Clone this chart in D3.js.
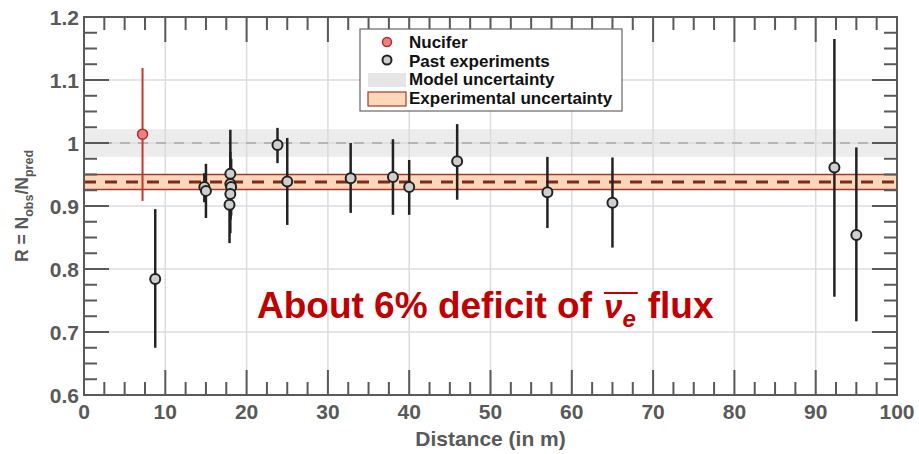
<!DOCTYPE html>
<html>
<head>
<meta charset="utf-8">
<script src="https://cdn.jsdelivr.net/npm/d3@7"></script>
<style>
  html, body { margin: 0; padding: 0; background: #fff; }
  svg { display: block; }
  text { font-family: "Liberation Sans", Arial, Helvetica, sans-serif; }
</style>
</head>
<body>
<svg id="chart" width="919" height="454"></svg>
<script>
// ---------- data ----------
const nuciferDistance = [7.2];
const nuciferRatio    = [1.014];
const nuciferLow      = [0.908];
const nuciferHigh     = [1.119];

const pastDistance = [8.76, 14.8, 15.0, 18.0, 18.0, 18.1, 18.0, 17.9, 23.8, 25.0, 32.8, 38.0, 40.0, 45.9, 57.0, 65.0, 92.3, 95.0];
const pastRatio    = [0.784, 0.930, 0.924, 0.951, 0.935, 0.930, 0.919, 0.902, 0.997, 0.939, 0.944, 0.946, 0.930, 0.971, 0.922, 0.905, 0.961, 0.854];
const pastLow      = [0.675, 0.906, 0.881, 0.880, 0.857, 0.885, 0.878, 0.841, 0.968, 0.870, 0.889, 0.886, 0.886, 0.910, 0.865, 0.834, 0.756, 0.717];
const pastHigh     = [0.895, 0.952, 0.967, 1.021, 0.986, 0.975, 0.960, 0.960, 1.024, 1.008, 1.000, 1.006, 0.973, 1.030, 0.978, 0.977, 1.165, 0.993];

const modelBand = [0.978, 1.022];   // model uncertainty
const modelLine = 1.0;
const expBand   = [0.926, 0.950];   // experimental uncertainty
const expLine   = 0.938;

const xTicks = [0, 10, 20, 30, 40, 50, 60, 70, 80, 90, 100];
const yTicks = [0.6, 0.7, 0.8, 0.9, 1.0, 1.1, 1.2];
const yTickLabels = ["0.6", "0.7", "0.8", "0.9", "1", "1.1", "1.2"];
const legendLabels = ["Nucifer", "Past experiments", "Model uncertainty", "Experimental uncertainty"];

// ---------- layout ----------
const svg = d3.select("#chart");
const m = { left: 84, top: 17, right: 22, bottom: 59 };
const W = 919 - m.left - m.right, H = 454 - m.top - m.bottom;
const x = d3.scaleLinear().domain([0, 100]).range([m.left, m.left + W]);
const y = d3.scaleLinear().domain([0.6, 1.2]).range([m.top + H, m.top]);
const axisColor = "#595959";

// grid
const g = svg.append("g");
g.selectAll(".gx").data(xTicks.slice(1, -1)).join("line")
  .attr("x1", d => x(d)).attr("x2", d => x(d)).attr("y1", y(0.6)).attr("y2", y(1.2))
  .attr("stroke", "#dcdcdc").attr("stroke-width", 1.5);
g.selectAll(".gy").data(yTicks.slice(1, -1)).join("line")
  .attr("y1", d => y(d)).attr("y2", d => y(d)).attr("x1", x(0)).attr("x2", x(100))
  .attr("stroke", "#dcdcdc").attr("stroke-width", 1.5);

// model band
g.append("rect").attr("x", x(0)).attr("width", x(100) - x(0))
  .attr("y", y(modelBand[1])).attr("height", y(modelBand[0]) - y(modelBand[1]))
  .attr("fill", "#d9d9d9").attr("fill-opacity", 0.5);
g.append("line").attr("x1", x(0)).attr("x2", x(100)).attr("y1", y(modelLine)).attr("y2", y(modelLine))
  .attr("stroke", "#a8a8a8").attr("stroke-width", 1.5).attr("stroke-dasharray", "10,8");

// experimental band
g.append("rect").attr("x", x(0)).attr("width", x(100) - x(0))
  .attr("y", y(expBand[1])).attr("height", y(expBand[0]) - y(expBand[1]))
  .attr("fill", "#fcd7b8");
expBand.forEach(v => g.append("line").attr("x1", x(0)).attr("x2", x(100)).attr("y1", y(v)).attr("y2", y(v))
  .attr("stroke", "#a3392c").attr("stroke-width", 1.5));
g.append("line").attr("x1", x(0)).attr("x2", x(100)).attr("y1", y(expLine)).attr("y2", y(expLine))
  .attr("stroke", "#7e2a1c").attr("stroke-width", 3).attr("stroke-dasharray", "12,9");

// error bars - past
const past = pastDistance.map((d, i) => ({ d, r: pastRatio[i], lo: pastLow[i], hi: pastHigh[i] }));
g.selectAll(".pe").data(past).join("line")
  .attr("x1", p => x(p.d)).attr("x2", p => x(p.d)).attr("y1", p => y(p.lo)).attr("y2", p => y(p.hi))
  .attr("stroke", "#222").attr("stroke-width", 2.5);
g.selectAll(".pm").data(past).join("circle")
  .attr("cx", p => x(p.d)).attr("cy", p => y(p.r)).attr("r", 5)
  .attr("fill", "#cfcfcf").attr("stroke", "#222").attr("stroke-width", 2);

// Nucifer
const nuc = nuciferDistance.map((d, i) => ({ d, r: nuciferRatio[i], lo: nuciferLow[i], hi: nuciferHigh[i] }));
g.selectAll(".ne").data(nuc).join("line")
  .attr("x1", p => x(p.d)).attr("x2", p => x(p.d)).attr("y1", p => y(p.lo)).attr("y2", p => y(p.hi))
  .attr("stroke", "#c0392b").attr("stroke-width", 2);
g.selectAll(".nm").data(nuc).join("circle")
  .attr("cx", p => x(p.d)).attr("cy", p => y(p.r)).attr("r", 5)
  .attr("fill", "#f27f7f").attr("stroke", "#a83232").attr("stroke-width", 1.5);

// ticks (inside, all four sides)
const xMinor = d3.range(2.5, 100, 2.5).filter(v => Math.abs(v % 10) > 1e-6);
const yMinor = d3.range(0, 24).map(i => 0.6 + i * 0.025).filter((v, i) => i % 4 !== 0 && v < 1.2);
const tk = svg.append("g").attr("stroke", axisColor).attr("stroke-width", 2);
function xt(vals, len) {
  vals.forEach(v => {
    tk.append("line").attr("x1", x(v)).attr("x2", x(v)).attr("y1", y(0.6)).attr("y2", y(0.6) - len);
    tk.append("line").attr("x1", x(v)).attr("x2", x(v)).attr("y1", y(1.2)).attr("y2", y(1.2) + len);
  });
}
function yt(vals, len) {
  vals.forEach(v => {
    tk.append("line").attr("y1", y(v)).attr("y2", y(v)).attr("x1", x(0)).attr("x2", x(0) + len);
    tk.append("line").attr("y1", y(v)).attr("y2", y(v)).attr("x1", x(100)).attr("x2", x(100) - len);
  });
}
xt(xTicks.slice(1, -1), 25); xt(xMinor, 13);
yt(yTicks.slice(1, -1), 25); yt(yMinor, 13);
svg.append("rect").attr("x", x(0)).attr("y", y(1.2)).attr("width", x(100) - x(0)).attr("height", y(0.6) - y(1.2))
  .attr("fill", "none").attr("stroke", axisColor).attr("stroke-width", 2);

// tick labels
svg.selectAll(".xl").data(xTicks).join("text")
  .attr("x", d => x(d)).attr("y", y(0.6) + 24).attr("text-anchor", "middle")
  .attr("font-size", 21).attr("font-weight", "bold").attr("fill", axisColor).text(d => d);
svg.selectAll(".yl").data(yTicks).join("text")
  .attr("x", x(0) - 5).attr("y", d => y(d) + 7.5).attr("text-anchor", "end")
  .attr("font-size", 21).attr("font-weight", "bold").attr("fill", axisColor).text((d, i) => yTickLabels[i]);

// axis titles
svg.append("text").attr("x", (x(0) + x(100)) / 2).attr("y", 446).attr("text-anchor", "middle")
  .attr("font-size", 21).attr("font-weight", "bold").attr("fill", axisColor).text("Distance (in m)");
const yt1 = svg.append("text").attr("transform", `translate(28,${(y(0.6) + y(1.2)) / 2}) rotate(-90)`)
  .attr("text-anchor", "middle").attr("font-size", 17.5).attr("font-weight", "bold").attr("fill", axisColor);
yt1.append("tspan").text("R = N");
yt1.append("tspan").attr("font-size", 12.5).attr("dy", 5).text("obs");
yt1.append("tspan").attr("dy", -5).text("/N");
yt1.append("tspan").attr("font-size", 12.5).attr("dy", 5).text("pred");

// legend
const lg = svg.append("g");
lg.append("rect").attr("x", 360).attr("y", 29).attr("width", 262).attr("height", 82)
  .attr("fill", "#fff").attr("stroke", "#666").attr("stroke-width", 1.2);
lg.append("circle").attr("cx", 387).attr("cy", 42).attr("r", 4.5).attr("fill", "#f27f7f").attr("stroke", "#a83232").attr("stroke-width", 1.5);
lg.append("circle").attr("cx", 387).attr("cy", 60).attr("r", 4.5).attr("fill", "#cfcfcf").attr("stroke", "#222").attr("stroke-width", 2);
lg.append("rect").attr("x", 368).attr("y", 73).attr("width", 38).attr("height", 14).attr("fill", "#e6e6e6");
lg.append("rect").attr("x", 368).attr("y", 92).attr("width", 38).attr("height", 14).attr("fill", "#fcd7b8").attr("stroke", "#a3392c").attr("stroke-width", 1.2);
lg.selectAll(".lt").data(legendLabels).join("text")
  .attr("x", 409).attr("y", (d, i) => 48 + i * 18.5)
  .attr("font-size", 17).attr("font-weight", "bold").attr("fill", "#111").text(d => d);

// annotation
const red = "#c00000";
const ann = svg.append("g");
const a1 = ann.append("text").attr("x", 257).attr("y", 318).attr("font-size", 37).attr("font-weight", "bold")
  .attr("fill", red).text("About 6% deficit of");
const w1 = a1.node().getComputedTextLength();
const nuX = 257 + w1 + 12;
const nu = ann.append("text").attr("x", nuX).attr("y", 318)
  .attr("font-family", "'DejaVu Serif', 'Liberation Serif', serif").attr("font-style", "italic").attr("font-weight", "bold")
  .attr("font-size", 33).attr("fill", red).text("ν");
const wNu = nu.node().getComputedTextLength();
const sub = ann.append("text").attr("x", nuX + wNu).attr("y", 327)
  .attr("font-family", "'DejaVu Serif', 'Liberation Serif', serif").attr("font-style", "italic").attr("font-weight", "bold")
  .attr("font-size", 24).attr("fill", red).text("e");
const wSub = sub.node().getComputedTextLength();
ann.append("line").attr("x1", nuX).attr("x2", nuX + wNu + wSub + 2).attr("y1", 293).attr("y2", 293)
  .attr("stroke", red).attr("stroke-width", 2);
ann.append("text").attr("x", nuX + wNu + wSub + 12).attr("y", 318).attr("font-size", 37).attr("font-weight", "bold")
  .attr("fill", red).text("flux");
</script>
</body>
</html>
